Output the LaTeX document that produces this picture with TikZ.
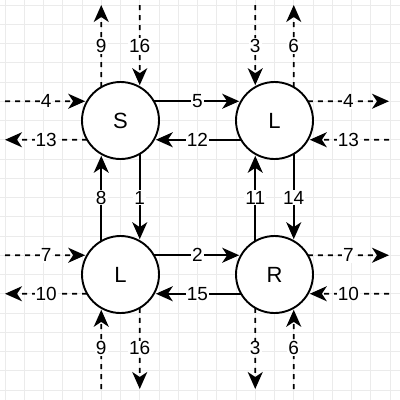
\documentclass[tikz,border=0pt]{standalone}
\usepackage{fontspec}
\setmainfont{Liberation Sans}
\usetikzlibrary{arrows.meta}
\definecolor{gridc}{HTML}{EBEBEB}
\tikzset{
  state/.style={circle, draw=black, line width=1.9pt, fill=white, minimum size=77pt, inner sep=0pt, outer sep=0pt, font=\fontsize{22}{26}\selectfont},
  conn/.style={line width=1.8pt, -{Stealth[length=17pt,width=15pt,inset=5pt]}},
  inarrow/.style={shorten >=2pt},
  dashedconn/.style={conn, dash pattern=on 5pt off 5pt},
  lbl/.style={fill=white, inner sep=1pt, font=\fontsize{19}{22}\selectfont}
}
\begin{document}
\begin{tikzpicture}[x=1pt,y=-1pt]
\useasboundingbox (0,0) rectangle (400,400);
\fill[white] (0,0) rectangle (400,400);
\foreach \k in {0,...,20} {
  \draw[gridc, line width=0.9pt] ({5+19.25*\k},0) -- ({5+19.25*\k},400);
  \draw[gridc, line width=0.9pt] (0,{5+19.25*\k}) -- (400,{5+19.25*\k});
}
% nodes
\node[state] (S) at (120.5,120.5) {S};
\node[state] (LT) at (274.5,120.5) {L};
\node[state] (LB) at (120.5,274.5) {L};
\node[state] (R) at (274.5,274.5) {R};
% free ends
\coordinate (sTa) at (101.25,5);
\coordinate (sTb) at (139.75,5);
\coordinate (sLa) at (5,101.25);
\coordinate (sLb) at (5,139.75);
\coordinate (tTa) at (255.25,5);
\coordinate (tTb) at (293.75,5);
\coordinate (tRa) at (389,101.25);
\coordinate (tRb) at (389,139.75);
\coordinate (bLa) at (5,255.25);
\coordinate (bLb) at (5,293.75);
\coordinate (bBa) at (101.25,389);
\coordinate (bBb) at (139.75,389);
\coordinate (rRa) at (389,255.25);
\coordinate (rRb) at (389,293.75);
\coordinate (rBa) at (255.25,389);
\coordinate (rBb) at (293.75,389);
% S outer
\draw[dashedconn] (S.120) -- node[lbl]{9} (sTa);
\draw[dashedconn,inarrow] (sTb) -- node[lbl]{16} (S.60);
\draw[dashedconn,inarrow] (sLa) -- node[lbl]{4} (S.150);
\draw[dashedconn] (S.210) -- node[lbl]{13} (sLb);
% top L outer
\draw[dashedconn,inarrow] (tTa) -- node[lbl]{3} (LT.120);
\draw[dashedconn] (LT.60) -- node[lbl]{6} (tTb);
\draw[dashedconn] (LT.30) -- node[lbl]{4} (tRa);
\draw[dashedconn,inarrow] (tRb) -- node[lbl]{13} (LT.-30);
% bottom L outer
\draw[dashedconn,inarrow] (bLa) -- node[lbl]{7} (LB.150);
\draw[dashedconn] (LB.210) -- node[lbl]{10} (bLb);
\draw[dashedconn,inarrow] (bBa) -- node[lbl]{9} (LB.240);
\draw[dashedconn] (LB.300) -- node[lbl]{16} (bBb);
% R outer
\draw[dashedconn] (R.30) -- node[lbl]{7} (rRa);
\draw[dashedconn,inarrow] (rRb) -- node[lbl]{10} (R.-30);
\draw[dashedconn] (R.240) -- node[lbl]{3} (rBa);
\draw[dashedconn,inarrow] (rBb) -- node[lbl]{6} (R.300);
% inner
\draw[conn,inarrow] (S.30) -- node[lbl]{5} (LT.150);
\draw[conn,inarrow] (LT.210) -- node[lbl]{12} (S.-30);
\draw[conn,inarrow] (S.300) -- node[lbl]{1} (LB.60);
\draw[conn,inarrow] (LB.120) -- node[lbl]{8} (S.240);
\draw[conn,inarrow] (R.120) -- node[lbl]{11} (LT.240);
\draw[conn,inarrow] (LT.300) -- node[lbl]{14} (R.60);
\draw[conn,inarrow] (LB.30) -- node[lbl]{2} (R.150);
\draw[conn,inarrow] (R.210) -- node[lbl]{15} (LB.-30);
\end{tikzpicture}
\end{document}
